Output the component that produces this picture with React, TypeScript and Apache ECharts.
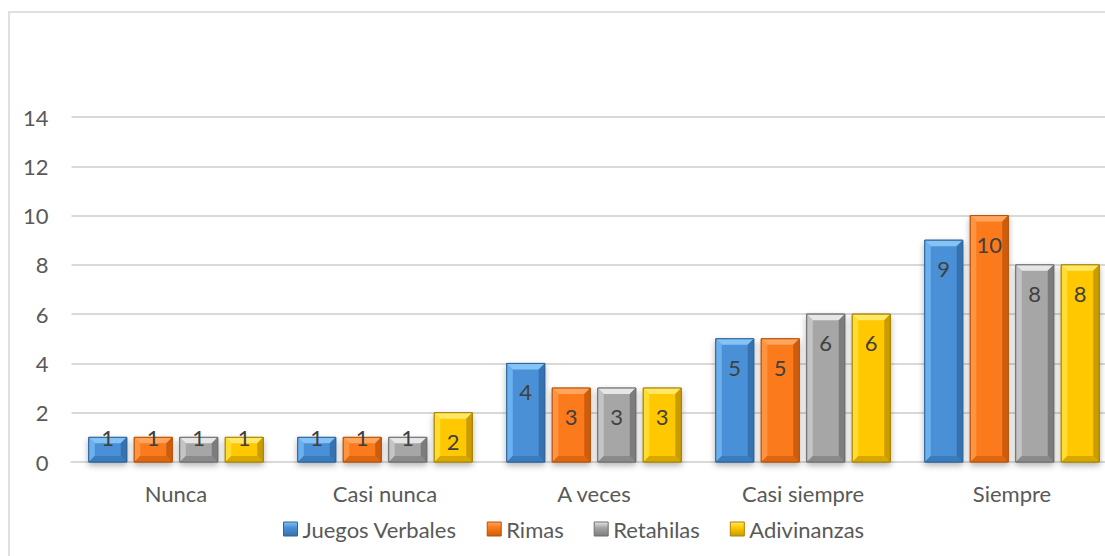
import React, { useEffect, useRef } from "react";
import * as echarts from "echarts";

const categories = ["Nunca", "Casi nunca", "A veces", "Casi siempre", "Siempre"];
const seriesNames = ["Juegos Verbales", "Rimas", "Retahilas", "Adivinanzas"];
const juegosVerbales = [1, 1, 4, 5, 9];
const rimas = [1, 1, 3, 5, 10];
const retahilas = [1, 1, 3, 6, 8];
const adivinanzas = [1, 2, 3, 6, 8];
const seriesValues = [juegosVerbales, rimas, retahilas, adivinanzas];
const yTicks = [0, 2, 4, 6, 8, 10, 12, 14];

const palettes = [
  { main: "#4a90d6", light: "#6cb0ee", top: "#85c3f6", right: "#3672b0", bottom: "#3a7cc0", border: "#2f6599" },
  { main: "#fb7a1a", light: "#ff9440", top: "#ffa55c", right: "#cf5c0c", bottom: "#dd6610", border: "#b5530c" },
  { main: "#a6a6a6", light: "#c4c4c4", top: "#e6e6e6", right: "#7c7c7c", bottom: "#8a8a8a", border: "#6e6e6e" },
  { main: "#ffc800", light: "#ffdc30", top: "#ffe866", right: "#c99c00", bottom: "#d9a800", border: "#a88300" },
];

const FONT = "Lato, 'Open Sans', sans-serif";

export default function App() {
  const ref = useRef<HTMLDivElement>(null);

  useEffect(() => {
    if (!ref.current) return;
    const chart = echarts.init(ref.current, null, { renderer: "svg" });

    const makeRender = (sIdx: number) => (params: any, api: any) => {
      const pal = palettes[sIdx];
      const cat = api.value(0);
      const v = api.value(1);
      const topPt = api.coord([cat, v]);
      const basePt = api.coord([cat, 0]);
      const band = api.size([1, 0])[0];
      const bw = (band * 38) / 209;
      const gap = (band * 7.5) / 209;
      const cx = topPt[0] + (sIdx - 1.5) * (bw + gap);
      const x0 = cx - bw / 2;
      const x1 = cx + bw / 2;
      const y0 = topPt[1];
      const y1 = basePt[1];
      const h = y1 - y0;
      const b = Math.min(6, h / 2, bw / 2);
      const labelY = h >= 40 ? y0 + 28.5 : y0;
      return {
        type: "group",
        children: [
          {
            type: "rect",
            shape: { x: x0, y: y0, width: bw, height: h },
            style: {
              fill: new echarts.graphic.LinearGradient(0, 0, 1, 0, [
                { offset: 0, color: pal.light },
                { offset: 0.15, color: pal.main },
                { offset: 0.85, color: pal.main },
                { offset: 1, color: pal.right },
              ]),
              stroke: pal.border,
              lineWidth: 1,
              shadowBlur: 6,
              shadowOffsetY: 3,
              shadowColor: "rgba(0,0,0,0.3)",
            },
          },
          {
            type: "polygon",
            shape: { points: [[x0, y0], [x1, y0], [x1 - b, y0 + b], [x0 + b, y0 + b]] },
            style: { fill: pal.top },
          },
          {
            type: "polygon",
            shape: { points: [[x0, y0], [x0 + b, y0 + b], [x0 + b, y1 - b], [x0, y1]] },
            style: { fill: pal.light },
          },
          {
            type: "polygon",
            shape: { points: [[x1, y0], [x1 - b, y0 + b], [x1 - b, y1 - b], [x1, y1]] },
            style: { fill: pal.right },
          },
          {
            type: "polygon",
            shape: { points: [[x0, y1], [x1, y1], [x1 - b, y1 - b], [x0 + b, y1 - b]] },
            style: { fill: pal.bottom },
          },
          {
            type: "rect",
            shape: { x: x0, y: y0, width: bw, height: h },
            style: { fill: "none", stroke: pal.border, lineWidth: 1 },
          },
          {
            type: "text",
            style: {
              text: String(v),
              x: cx,
              y: labelY,
              align: "center",
              verticalAlign: "middle",
              fill: "#404040",
              fontSize: 22,
              fontFamily: FONT,
            },
          },
        ],
      };
    };

    chart.setOption({
      animation: false,
      backgroundColor: "#ffffff",
      grid: { left: 61.5, right: 11.5, top: 104, bottom: 107, containLabel: false },
      legend: {
        left: 268,
        top: 500,
        itemWidth: 14,
        itemHeight: 14,
        itemGap: 30,
        icon: "rect",
        textStyle: { color: "#595959", fontSize: 22, fontFamily: FONT },
        data: seriesNames.map((n, i) => ({
          name: n,
          itemStyle: {
            color: new echarts.graphic.LinearGradient(0, 0, 0, 1, [
              { offset: 0, color: palettes[i].top },
              { offset: 0.4, color: palettes[i].main },
              { offset: 1, color: palettes[i].right },
            ]),
            borderColor: palettes[i].border,
            borderWidth: 1,
          },
        })),
      },
      xAxis: {
        type: "category",
        data: categories,
        axisTick: { show: false },
        axisLine: { lineStyle: { color: "#d9d9d9", width: 2 } },
        axisLabel: { color: "#595959", fontSize: 22, fontFamily: FONT, margin: 20 },
      },
      yAxis: {
        type: "value",
        min: yTicks[0],
        max: yTicks[yTicks.length - 1],
        interval: yTicks[1] - yTicks[0],
        axisLine: { show: false },
        axisTick: { show: false },
        axisLabel: { color: "#595959", fontSize: 22, fontFamily: FONT, margin: 23 },
        splitLine: { lineStyle: { color: "#d9d9d9", width: 2 } },
      },
      series: seriesNames.map((n, i) => ({
        type: "custom",
        name: n,
        renderItem: makeRender(i),
        encode: { x: 0, y: 1 },
        itemStyle: { color: palettes[i].main },
        data: seriesValues[i].map((v, j) => [j, v]),
        clip: false,
      })),
    });

    return () => chart.dispose();
  }, []);

  return (
    <div style={{ position: "fixed", left: 0, top: 0, width: 1105, height: 556, overflow: "hidden", background: "#fff" }}>
      <div
        style={{
          position: "absolute",
          left: 8,
          top: 11,
          width: 1122,
          height: 560,
          border: "2px solid #e0e0e0",
          boxSizing: "border-box",
        }}
      >
        <div ref={ref} style={{ width: 1118, height: 556 }} />
      </div>
    </div>
  );
}
